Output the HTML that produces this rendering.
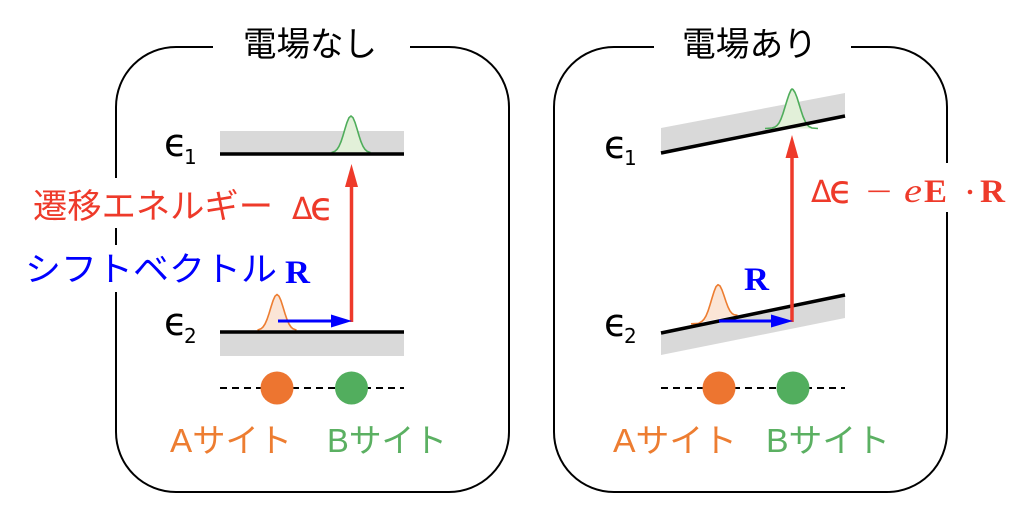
<!DOCTYPE html>
<html><head><meta charset="utf-8"><style>
html,body{margin:0;padding:0;background:#fff;}
svg{display:block;}
.jp{font-family:"Liberation Sans","Noto Sans CJK JP",sans-serif;}
.mt{font-family:"Liberation Serif","DejaVu Serif",serif;}
.ep{font-family:"DejaVu Sans",sans-serif;}
</style></head><body>
<svg width="1024" height="513" viewBox="0 0 1024 513" xmlns="http://www.w3.org/2000/svg">
<rect width="1024" height="513" fill="#fff"/>
<!-- boxes -->
<path d="M213,47 H176 A60,60 0 0 0 116,107 V178 M116,228 V245 M116,292 V432 A60,60 0 0 0 176,492 H449 A60,60 0 0 0 509,432 V107 A60,60 0 0 0 449,47 H410" fill="none" stroke="#000" stroke-width="2"/>
<path d="M654,47 H614 A60,60 0 0 0 554,107 V432 A60,60 0 0 0 614,492 H887 A60,60 0 0 0 947,432 V212 M947,163 V107 A60,60 0 0 0 887,47 H851" fill="none" stroke="#000" stroke-width="2"/>
<!-- titles -->
<text class="jp" x="243" y="56" font-size="34" textLength="134" lengthAdjust="spacingAndGlyphs" fill="#000">電場なし</text>
<text class="jp" x="682" y="56" font-size="34" textLength="135" lengthAdjust="spacingAndGlyphs" fill="#000">電場あり</text>

<!-- LEFT PANEL -->
<rect x="220" y="131" width="184" height="23" fill="#d9d9d9"/>
<rect x="220" y="332" width="184" height="24" fill="#d9d9d9"/>
<path d="M331.5,152.6 L335,151.2 337,149.4 339,146.3 341,141.7 343,135.6 345,128.8 347,122.4 349,117.7 351,116 353,117.7 355,122.4 357,128.8 359,135.6 361,141.7 363,146.3 365,149.4 367,151.2 370.5,152.6 Z" fill="#e2f0d9" stroke="none"/>
<path d="M331.5,152.6 L335,151.2 337,149.4 339,146.3 341,141.7 343,135.6 345,128.8 347,122.4 349,117.7 351,116 353,117.7 355,122.4 357,128.8 359,135.6 361,141.7 363,146.3 365,149.4 367,151.2 370.5,152.6" fill="none" stroke="#4fad5b" stroke-width="1.6" stroke-linejoin="round"/>
<path d="M257.5,330.1 L261,328.8 263,327 265,324 267,319.5 269,313.6 271,307 273,300.7 275,296.2 277,294.5 279,296.2 281,300.7 283,307 285,313.6 287,319.5 289,324 291,327 293,328.8 296.5,330.1 Z" fill="#fbe5d6" stroke="none"/>
<path d="M257.5,330.1 L261,328.8 263,327 265,324 267,319.5 269,313.6 271,307 273,300.7 275,296.2 277,294.5 279,296.2 281,300.7 283,307 285,313.6 287,319.5 289,324 291,327 293,328.8 296.5,330.1" fill="none" stroke="#ed7d31" stroke-width="1.6" stroke-linejoin="round"/>
<line x1="220" y1="154" x2="404" y2="154" stroke="#000" stroke-width="3.5"/>
<line x1="220" y1="332" x2="404" y2="332" stroke="#000" stroke-width="3.5"/>
<!-- red arrow -->
<line x1="351.5" y1="322" x2="351.5" y2="185" stroke="#ee3a2a" stroke-width="3.5"/>
<polygon points="345,187 358,187 351.5,164" fill="#ee3a2a"/>
<!-- blue arrow -->
<line x1="278" y1="321" x2="334" y2="321" stroke="#0000ff" stroke-width="3"/>
<polygon points="331,314.5 352,321 331,327.5" fill="#0000ff"/>
<!-- epsilon labels -->
<text class="ep" x="164" y="156" font-size="38" fill="#000">ϵ</text>
<text class="ep" x="184" y="164" font-size="20" fill="#000">1</text>
<text class="ep" x="164" y="335" font-size="38" fill="#000">ϵ</text>
<text class="ep" x="184" y="343" font-size="20" fill="#000">2</text>
<!-- labels -->
<text class="jp" x="33" y="218" font-size="34" textLength="240" lengthAdjust="spacingAndGlyphs" fill="#ee3a2a">遷移エネルギー</text>
<text class="ep" x="292" y="219" font-size="30" fill="#ee3a2a">Δ</text>
<text class="ep" x="310" y="220" font-size="39" fill="#ee3a2a">ϵ</text>
<text class="jp" x="25" y="281" font-size="34" textLength="252" lengthAdjust="spacingAndGlyphs" fill="#0000ff">シフトベクトル</text>
<text class="mt" x="285" y="283" font-size="33" font-weight="bold" fill="#0000ff" textLength="25" lengthAdjust="spacingAndGlyphs">R</text>
<!-- sites -->
<line x1="220" y1="388" x2="404" y2="388" stroke="#000" stroke-width="2" stroke-dasharray="7 5"/>
<circle cx="277" cy="388" r="16.5" fill="#ed7530"/>
<circle cx="351.5" cy="388" r="16.5" fill="#52ae5e"/>
<text class="jp" x="170" y="452" font-size="33" textLength="122" lengthAdjust="spacingAndGlyphs" fill="#ed7d31">Aサイト</text>
<text class="jp" x="327" y="452" font-size="33" textLength="120" lengthAdjust="spacingAndGlyphs" fill="#5bb062">Bサイト</text>

<!-- RIGHT PANEL -->
<polygon points="661,128 845,93 845,116 661,153" fill="#d9d9d9"/>
<polygon points="661,333 845,295 845,318 661,355" fill="#d9d9d9"/>
<path d="M768,128.5 L772,128 775,127 777,125.5 779,123 781,119 783,113.5 785,107 787,100.5 789,94.5 791,90 792,89 793,89.5 795,92.5 797,97.5 799,104 801,110.5 803,116.5 805,121 807,124.5 809,126.5 812,128 816,128.5 Z" fill="#e2f0d9" stroke="none"/>
<path d="M765,128.5 L772,128 775,127 777,125.5 779,123 781,119 783,113.5 785,107 787,100.5 789,94.5 791,90 792,89 793,89.5 795,92.5 797,97.5 799,104 801,110.5 803,116.5 805,121 807,124.5 809,126.5 812,128 818,128.5" fill="none" stroke="#4fad5b" stroke-width="1.6" stroke-linejoin="round"/>
<path d="M692,323.6 L698.5,323.4 702,321.3 704,319.2 706,315.9 708,311.1 710,304.9 712,298.1 714,291.7 716,286.7 718,284.7 720,285.9 722,290 724,295.6 726,301.6 728,307 730,311 732,313.4 734,314.7 737.5,315.3 Z" fill="#fbe5d6" stroke="none"/>
<path d="M691,323.8 L698.5,323.4 702,321.3 704,319.2 706,315.9 708,311.1 710,304.9 712,298.1 714,291.7 716,286.7 718,284.7 720,285.9 722,290 724,295.6 726,301.6 728,307 730,311 732,313.4 734,314.7 737.5,315.3" fill="none" stroke="#ed7d31" stroke-width="1.6" stroke-linejoin="round"/>
<line x1="661" y1="153" x2="845" y2="116" stroke="#000" stroke-width="3.5"/>
<line x1="661" y1="333" x2="845" y2="295" stroke="#000" stroke-width="3.5"/>
<!-- red arrow -->
<line x1="792" y1="322" x2="792" y2="156" stroke="#ee3a2a" stroke-width="3.5"/>
<polygon points="785.5,158 798.5,158 792,135" fill="#ee3a2a"/>
<!-- blue arrow -->
<line x1="719" y1="321" x2="774" y2="321" stroke="#0000ff" stroke-width="3"/>
<polygon points="771,314.5 793,321 771,327.5" fill="#0000ff"/>
<!-- epsilon labels -->
<text class="ep" x="604" y="158" font-size="38" fill="#000">ϵ</text>
<text class="ep" x="624" y="165" font-size="20" fill="#000">1</text>
<text class="ep" x="604" y="336" font-size="38" fill="#000">ϵ</text>
<text class="ep" x="624" y="343" font-size="20" fill="#000">2</text>
<!-- R label -->
<text class="mt" x="744" y="290" font-size="33" font-weight="bold" fill="#0000ff" textLength="25" lengthAdjust="spacingAndGlyphs">R</text>
<!-- formula -->
<text class="ep" x="811" y="202" font-size="30" fill="#ee3a2a">Δ</text>
<text class="ep" x="829" y="203" font-size="39" fill="#ee3a2a">ϵ</text>
<text class="mt" x="866" y="202" font-size="32" fill="#ee3a2a" textLength="26" lengthAdjust="spacingAndGlyphs">−</text>
<text class="mt" x="904" y="202" font-size="34" font-style="italic" fill="#ee3a2a" textLength="18" lengthAdjust="spacingAndGlyphs">e</text>
<text class="mt" x="924" y="202" font-size="33" font-weight="bold" fill="#ee3a2a" textLength="23" lengthAdjust="spacingAndGlyphs">E</text>
<circle cx="970" cy="192" r="2.3" fill="#ee3a2a"/>
<text class="mt" x="980" y="202" font-size="33" font-weight="bold" fill="#ee3a2a" textLength="25" lengthAdjust="spacingAndGlyphs">R</text>
<!-- sites -->
<line x1="661" y1="388" x2="845" y2="388" stroke="#000" stroke-width="2" stroke-dasharray="7 5"/>
<circle cx="719" cy="388" r="16.5" fill="#ed7530"/>
<circle cx="793" cy="388" r="16.5" fill="#52ae5e"/>
<text class="jp" x="613" y="452" font-size="33" textLength="124" lengthAdjust="spacingAndGlyphs" fill="#ed7d31">Aサイト</text>
<text class="jp" x="766" y="452" font-size="33" textLength="124" lengthAdjust="spacingAndGlyphs" fill="#5bb062">Bサイト</text>
</svg>
</body></html>
